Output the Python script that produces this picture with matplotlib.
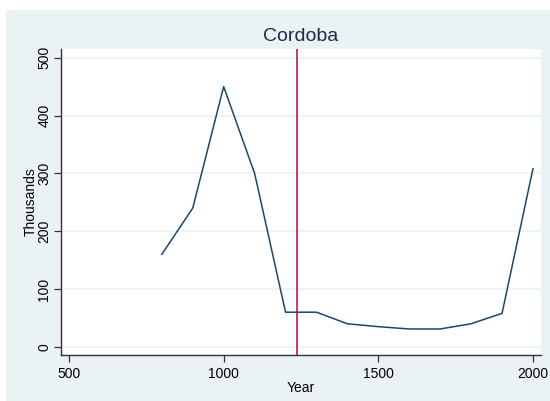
import matplotlib
matplotlib.use("Agg")
import matplotlib.pyplot as plt
from matplotlib.patches import Rectangle

# --------------------------------
# Data: Cordoba population (thousands)
# --------------------------------

years = [800, 900, 1000, 1100, 1200, 1300, 1400, 1500, 1600, 1700, 1800, 1900, 2000]
population = [160, 240, 450, 300, 60, 60, 40, 35, 31, 31, 40, 58, 308]
event_year = 1236
x_ticks = [500, 1000, 1500, 2000]
y_ticks = [0, 100, 200, 300, 400, 500]

bg = "#eaf2f3"
navy = "#1a476f"

plt.rcParams["font.family"] = ["Liberation Sans", "DejaVu Sans"]

fig = plt.figure(figsize=(5.5, 4.01), dpi=100)
fig.patch.set_facecolor("white")
fig.patches.append(Rectangle((6 / 550, 0), 1, 1 - 10 / 401,
                             transform=fig.transFigure, facecolor=bg,
                             edgecolor="none", zorder=-10))

ax = fig.add_axes([61 / 550, 46 / 401, 480 / 550, 306 / 401])
ax.set_facecolor("white")

ax.plot(years, population, color=navy, linewidth=1.1)
ax.axvline(event_year, color="#c10534", linewidth=1.1)

ax.set_xlim(474, 2026)
ax.set_ylim(-14, 515)
ax.set_xticks(x_ticks)
ax.set_yticks(y_ticks)
ax.yaxis.grid(True, color=bg, linewidth=1.2)
ax.set_axisbelow(True)

for s in ["top", "right"]:
    ax.spines[s].set_visible(False)
for s in ["left", "bottom"]:
    ax.spines[s].set_color("#333333")
    ax.spines[s].set_linewidth(1.0)

ax.tick_params(direction="out", length=5, width=0.9, color="#333333",
               labelsize=10, labelcolor="black")
ax.tick_params(axis="y", pad=2)
plt.setp(ax.get_yticklabels(), rotation=90, va="center")

ax.set_xlabel("Year", fontsize=10, labelpad=0)
ax.set_ylabel("Thousands", fontsize=10, labelpad=0)
ax.set_title("Cordoba", fontsize=14, color="#1e2a4a", pad=6)

fig.savefig("out.png", dpi=100, facecolor=fig.get_facecolor())
